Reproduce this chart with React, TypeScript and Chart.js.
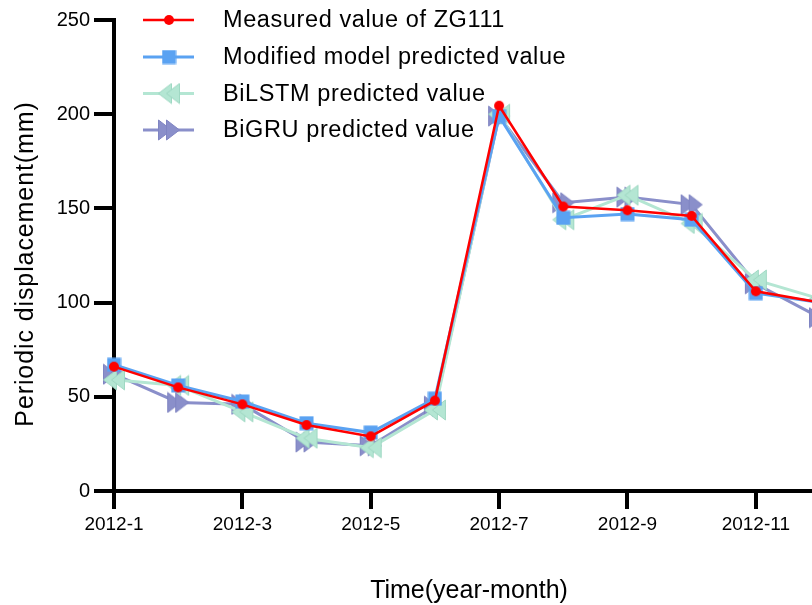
import { useEffect, useRef } from 'react';
import { Chart, registerables } from 'chart.js';

Chart.register(...registerables);

// Monthly periodic displacement of monitoring point ZG111 (mm)
const months = [
  '2012-1', '2012-2', '2012-3', '2012-4', '2012-5', '2012-6',
  '2012-7', '2012-8', '2012-9', '2012-10', '2012-11', '2012-12',
];
const measured = [66, 55, 46, 35, 29, 48, 204.5, 151, 149, 146, 106, 100];
const modified = [67, 56, 47.5, 36, 31, 49, 199, 145, 147, 144, 105, 100];
const bilstm = [59, 56, 42, 28, 23, 43, 200, 144, 157, 142, 112, 102];
const bigru = [62, 47, 46, 26, 24, 45, 199, 153, 156, 152, 110, 92];

const seriesNames = [
  'Measured value of ZG111',
  'Modified model predicted value',
  'BiLSTM predicted value',
  'BiGRU predicted value',
];

const FONT = '"Liberation Sans", Arial, Helvetica, sans-serif';
const RED = '#ff0000';
const BLUE = '#5aa2f2';
const MINT = '#b4e6d3';
const MINT_EDGE = '#9fd8c3';
const PURPLE = '#8a8fca';

type MarkerKind = 'circle' | 'square' | 'left2' | 'right2';

function makeMarker(kind: MarkerKind): HTMLCanvasElement {
  const c = document.createElement('canvas');
  const ctx = c.getContext('2d')!;
  if (kind === 'circle') {
    c.width = 12; c.height = 12;
    ctx.fillStyle = RED;
    ctx.beginPath();
    ctx.arc(6, 6, 5, 0, Math.PI * 2);
    ctx.fill();
  } else if (kind === 'square') {
    c.width = 15; c.height = 15;
    ctx.fillStyle = BLUE;
    ctx.fillRect(0.5, 0.5, 14, 14);
  } else {
    c.width = 24; c.height = 22;
    const left = kind === 'left2';
    ctx.fillStyle = left ? MINT : PURPLE;
    ctx.strokeStyle = left ? MINT_EDGE : '#7f84c2';
    ctx.lineWidth = 1;
    const tri = (tip: number, base: number) => {
      ctx.beginPath();
      ctx.moveTo(tip, 11);
      ctx.lineTo(base, 1);
      ctx.lineTo(base, 21);
      ctx.closePath();
      ctx.fill();
      ctx.stroke();
    };
    if (left) {
      tri(1.5, 14.5);
      tri(9.5, 22.5);
    } else {
      tri(14.5, 1.5);
      tri(22.5, 9.5);
    }
  }
  return c;
}

export default function App() {
  const ref = useRef<HTMLCanvasElement>(null);

  useEffect(() => {
    const canvas = ref.current;
    if (!canvas) return;

    const markers = [
      makeMarker('circle'),
      makeMarker('square'),
      makeMarker('left2'),
      makeMarker('right2'),
    ];
    const colors = [RED, BLUE, MINT, PURPLE];
    const widths = [2.5, 3, 3, 3];
    const values = [measured, modified, bilstm, bigru];

    // Legend with line + marker samples, plus both axis titles
    const overlay = {
      id: 'legendAndTitles',
      afterDraw(chart: any) {
        const ctx = chart.ctx as CanvasRenderingContext2D;
        ctx.save();
        const rowY = [20, 57, 93.5, 130];
        for (let i = 0; i < 4; i++) {
          const y = rowY[i];
          ctx.strokeStyle = colors[i];
          ctx.lineWidth = widths[i];
          ctx.beginPath();
          ctx.moveTo(143, y);
          ctx.lineTo(194, y);
          ctx.stroke();
          const m = markers[i];
          ctx.drawImage(m, 169 - m.width / 2, y - m.height / 2);
          ctx.fillStyle = '#000';
          ctx.font = `23.5px ${FONT}`;
          (ctx as any).letterSpacing = '0.6px';
          ctx.textAlign = 'left';
          ctx.textBaseline = 'middle';
          ctx.fillText(seriesNames[i], 223, y + 1);
        }

        // y-axis title
        ctx.save();
        ctx.translate(33, 264);
        ctx.rotate(-Math.PI / 2);
        ctx.font = `25px ${FONT}`;
        (ctx as any).letterSpacing = '0.9px';
        ctx.textAlign = 'center';
        ctx.textBaseline = 'alphabetic';
        ctx.fillStyle = '#000';
        ctx.fillText('Periodic displacement(mm)', 0, 0);
        ctx.restore();

        // x-axis title
        ctx.font = `25px ${FONT}`;
        (ctx as any).letterSpacing = '0px';
        ctx.textAlign = 'center';
        ctx.textBaseline = 'alphabetic';
        ctx.fillStyle = '#000';
        ctx.fillText('Time(year-month)', 469, 598);
        ctx.restore();
      },
    };

    const chart = new Chart(canvas, {
      type: 'line',
      data: {
        labels: months,
        datasets: values.map((d, i) => ({
          label: seriesNames[i],
          data: d,
          borderColor: colors[i],
          backgroundColor: colors[i],
          borderWidth: widths[i],
          pointStyle: markers[i] as any,
          pointRadius: 8,
          tension: 0,
          clip: false as any,
        })),
      },
      options: {
        responsive: false,
        animation: false,
        events: [],
        layout: { padding: { top: 20, right: 20, left: 0, bottom: 0 } },
        plugins: {
          legend: { display: false },
          tooltip: { enabled: false },
        },
        scales: {
          x: {
            type: 'category',
            afterFit: (s: any) => { s.height = 114; },
            afterBuildTicks: (s: any) => {
              s.ticks = s.ticks.filter((t: any) => t.value % 2 === 0);
            },
            grid: {
              display: true,
              drawOnChartArea: false,
              drawTicks: true,
              tickLength: 18,
              lineWidth: 4,
              color: '#000',
              tickColor: '#000',
            },
            border: { display: true, width: 4, color: '#000' },
            ticks: {
              autoSkip: false,
              maxRotation: 0,
              color: '#000',
              padding: 4,
              font: { family: FONT, size: 19 },
            },
          },
          y: {
            min: 0,
            max: 250,
            afterFit: (s: any) => { s.width = 114; },
            grid: {
              display: true,
              drawOnChartArea: false,
              drawTicks: true,
              tickLength: 20,
              lineWidth: 4,
              color: '#000',
              tickColor: '#000',
            },
            border: { display: true, width: 4, color: '#000' },
            ticks: {
              stepSize: 50,
              color: '#000',
              padding: 4,
              font: { family: FONT, size: 20 },
            },
          },
        },
      },
      plugins: [overlay],
    });

    return () => chart.destroy();
  }, []);

  return (
    <div
      style={{
        position: 'fixed',
        left: 0,
        top: 0,
        width: 812,
        height: 605,
        overflow: 'hidden',
        background: '#fff',
      }}
    >
      <canvas ref={ref} width={840} height={605} style={{ display: 'block' }} />
    </div>
  );
}
